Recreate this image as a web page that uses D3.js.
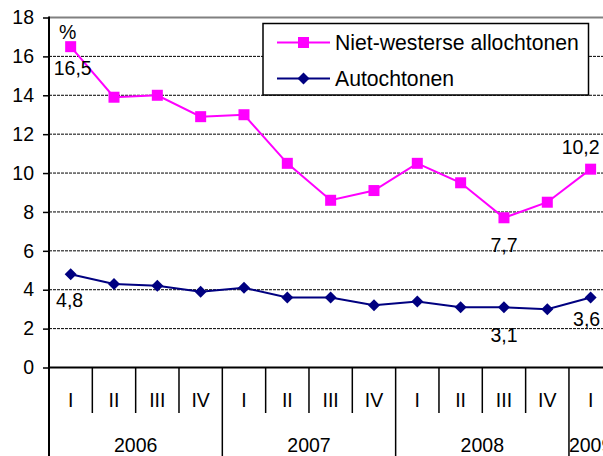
<!DOCTYPE html>
<html>
<head>
<meta charset="utf-8">
<script src="https://cdn.jsdelivr.net/npm/d3@7"></script>
<style>
  body { margin: 0; background: #fff; }
  svg text { font-family: "Liberation Sans", Arial, sans-serif; fill: #000; }
</style>
</head>
<body>
<div id="chart"></div>
<script>
const quarters = ["I", "II", "III", "IV", "I", "II", "III", "IV", "I", "II", "III", "IV", "I"];
const years = ["2006", "2007", "2008", "2009"];
const yearSpan = [4, 4, 4, 1];
const nietWesters = [16.5, 13.9, 14.0, 12.9, 13.0, 10.5, 8.6, 9.1, 10.5, 9.5, 7.7, 8.5, 10.2];
const autochtonen = [4.8, 4.3, 4.2, 3.9, 4.1, 3.6, 3.6, 3.2, 3.4, 3.1, 3.1, 3.0, 3.6];
const yTicks = [0, 2, 4, 6, 8, 10, 12, 14, 16, 18];

const width = 603, height = 456;
const plotLeft = 49, plotTop = 17.5, plotBottom = 367.5;
const band = 43.33;

const svg = d3.select("#chart").append("svg")
  .attr("width", width).attr("height", height);

const x = d3.scaleBand()
  .domain(d3.range(quarters.length))
  .range([plotLeft, plotLeft + band * quarters.length]);
const y = d3.scaleLinear().domain([0, 18]).range([plotBottom, plotTop]);

// gridlines
svg.append("g").selectAll("line")
  .data(yTicks.filter(d => d > 0 && d < 18))
  .enter().append("line")
  .attr("x1", plotLeft).attr("x2", width)
  .attr("y1", d => y(d)).attr("y2", d => y(d))
  .attr("stroke", "#000").attr("stroke-width", 1)
  .attr("stroke-dasharray", "3,1");

// top border
svg.append("line")
  .attr("x1", plotLeft).attr("x2", width)
  .attr("y1", y(18)).attr("y2", y(18))
  .attr("stroke", "#808080").attr("stroke-width", 2);

// y axis
const yAxis = svg.append("g")
  .attr("transform", `translate(${plotLeft},0)`)
  .call(d3.axisLeft(y).tickValues(yTicks).tickSize(6).tickPadding(9));
yAxis.select(".domain").remove();
yAxis.selectAll(".tick line").attr("stroke", "#000").attr("stroke-width", 1.5);
yAxis.selectAll(".tick text").attr("font-size", 19.5)
  .attr("font-family", "Liberation Sans, Arial, sans-serif");

// category separators
const qSep = svg.append("g");
quarters.forEach((q, i) => {
  if (i === 0) return;
  const isYear = [4, 8, 12].includes(i);
  qSep.append("line")
    .attr("x1", x(i)).attr("x2", x(i))
    .attr("y1", plotBottom).attr("y2", isYear ? height : 413)
    .attr("stroke", "#000").attr("stroke-width", 1.5);
});

svg.append("g").selectAll("text")
  .data(quarters)
  .enter().append("text")
  .attr("x", (d, i) => x(i) + x.bandwidth() / 2)
  .attr("y", 407)
  .attr("text-anchor", "middle")
  .attr("font-size", 19.5)
  .text(d => d);

let start = 0;
years.forEach((yr, i) => {
  const mid = plotLeft + band * (start + yearSpan[i] / 2);
  svg.append("text")
    .attr("x", mid).attr("y", 452)
    .attr("text-anchor", "middle")
    .attr("font-size", 19.5)
    .text(yr);
  start += yearSpan[i];
});

// axis lines
svg.append("line")
  .attr("x1", plotLeft).attr("x2", width)
  .attr("y1", plotBottom).attr("y2", plotBottom)
  .attr("stroke", "#000").attr("stroke-width", 2);
svg.append("line")
  .attr("x1", plotLeft).attr("x2", plotLeft)
  .attr("y1", plotTop - 1).attr("y2", height)
  .attr("stroke", "#000").attr("stroke-width", 2);

const cx = i => x(i) + x.bandwidth() / 2;
const line = d3.line().x((d, i) => cx(i)).y(d => y(d));

// series
svg.append("path").datum(nietWesters)
  .attr("d", line).attr("fill", "none")
  .attr("stroke", "#ff00ff").attr("stroke-width", 2);
svg.append("g").selectAll("rect")
  .data(nietWesters).enter().append("rect")
  .attr("x", (d, i) => cx(i) - 5.5).attr("y", d => y(d) - 5.5)
  .attr("width", 11).attr("height", 11)
  .attr("fill", "#ff00ff");

svg.append("path").datum(autochtonen)
  .attr("d", line).attr("fill", "none")
  .attr("stroke", "#000080").attr("stroke-width", 2);
const diamond = "M0,-6L6,0L0,6L-6,0Z";
svg.append("g").selectAll("path")
  .data(autochtonen).enter().append("path")
  .attr("d", diamond)
  .attr("transform", (d, i) => `translate(${cx(i)},${y(d)})`)
  .attr("fill", "#000080");

// data labels
const fmt = v => String(v.toFixed(1)).replace(".", ",");
const labels = [
  { s: nietWesters, i: 0, dx: 2, dy: 28 },
  { s: nietWesters, i: 10, dx: 0, dy: 34 },
  { s: nietWesters, i: 12, dx: -10, dy: -15 },
  { s: autochtonen, i: 0, dx: -1, dy: 33 },
  { s: autochtonen, i: 10, dx: 0, dy: 35 },
  { s: autochtonen, i: 12, dx: -4, dy: 28 }
];
svg.append("g").selectAll("text")
  .data(labels).enter().append("text")
  .attr("x", d => cx(d.i) + d.dx)
  .attr("y", d => y(d.s[d.i]) + d.dy)
  .attr("text-anchor", "middle")
  .attr("font-size", 19.5)
  .text(d => fmt(d.s[d.i]));

svg.append("text")
  .attr("x", 59).attr("y", 39)
  .attr("font-size", 19.5)
  .text("%");

// legend
const lg = svg.append("g");
lg.append("rect")
  .attr("x", 263).attr("y", 23.5)
  .attr("width", 325.5).attr("height", 71.5)
  .attr("fill", "#fff").attr("stroke", "#000").attr("stroke-width", 1.5);
const legendItems = [
  { name: "Niet-westerse allochtonen", color: "#ff00ff", shape: "square", y: 42.5 },
  { name: "Autochtonen", color: "#000080", shape: "diamond", y: 78.5 }
];
legendItems.forEach(d => {
  lg.append("line")
    .attr("x1", 277).attr("x2", 330)
    .attr("y1", d.y).attr("y2", d.y)
    .attr("stroke", d.color).attr("stroke-width", 2);
  if (d.shape === "square") {
    lg.append("rect")
      .attr("x", 303.5 - 5.5).attr("y", d.y - 5.5)
      .attr("width", 11).attr("height", 11).attr("fill", d.color);
  } else {
    lg.append("path").attr("d", diamond)
      .attr("transform", `translate(303.5,${d.y})`).attr("fill", d.color);
  }
  lg.append("text")
    .attr("x", 335).attr("y", d.y + 7)
    .attr("font-size", 21.2)
    .text(d.name);
});
</script>
</body>
</html>
